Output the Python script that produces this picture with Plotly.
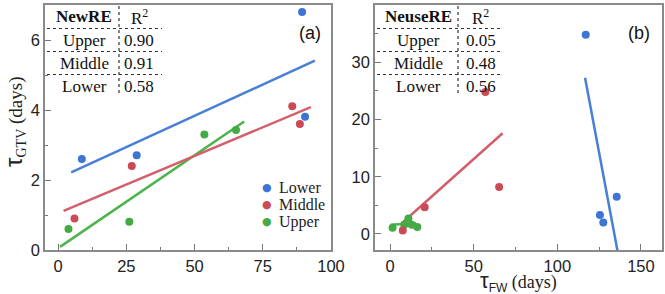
import plotly.graph_objects as go

W, H = 665, 294

# ---------------- data ----------------
groups = ["Lower", "Middle", "Upper"]
dot_colors = {"Lower": "#3d74d6", "Middle": "#cc4a58", "Upper": "#44ab44"}
line_colors = {"Lower": "#4a7fd6", "Middle": "#d2606c", "Upper": "#4db34d"}

# panel (a): NewRE
a_lower_x = [8.7, 28.8, 89.4, 90.5]
a_lower_y = [2.6, 2.71, 6.8, 3.81]
a_middle_x = [6.0, 27.0, 85.8, 88.6]
a_middle_y = [0.9, 2.4, 4.11, 3.6]
a_upper_x = [3.8, 26.1, 53.6, 65.2]
a_upper_y = [0.6, 0.81, 3.3, 3.43]

a_fit_lower_x = [4.8, 94.1]
a_fit_lower_y = [2.22, 5.41]
a_fit_middle_x = [2.0, 92.6]
a_fit_middle_y = [1.12, 4.08]
a_fit_upper_x = [0.7, 68.2]
a_fit_upper_y = [0.09, 3.67]

# panel (b): NeuseRE
b_lower_x = [117.0, 125.5, 127.5, 135.5]
b_lower_y = [34.8, 3.3, 2.0, 6.5]
b_middle_x = [7.6, 20.7, 57.0, 65.2]
b_middle_y = [0.6, 4.65, 24.8, 8.2]
b_upper_x = [1.5, 8.5, 11.0, 13.0, 16.3]
b_upper_y = [1.1, 1.6, 2.7, 1.6, 1.2]

b_fit_lower_x = [116.6, 136.3]
b_fit_lower_y = [27.3, -3.4]
b_fit_middle_x = [7.0, 67.3]
b_fit_middle_y = [1.87, 17.6]
b_fit_upper_x = [0.4, 15.5]
b_fit_upper_y = [1.6, 1.87]

# R^2 tables
table_rows = ["Upper", "Middle", "Lower"]
a_r2 = ["0.90", "0.91", "0.58"]
b_r2 = ["0.05", "0.48", "0.56"]

a_xticks = [0, 25, 50, 75, 100]
a_yticks = [0, 2, 4, 6]
b_xticks = [0, 50, 100, 150]
b_yticks = [0, 10, 20, 30]

legend_order = ["Lower", "Middle", "Upper"]

# ---------------- helpers ----------------
def px(x):
    return x / W

def py(y):
    return 1 - y / H

fig = go.Figure()

a_pts = {"Lower": (a_lower_x, a_lower_y), "Middle": (a_middle_x, a_middle_y), "Upper": (a_upper_x, a_upper_y)}
a_fit = {"Lower": (a_fit_lower_x, a_fit_lower_y), "Middle": (a_fit_middle_x, a_fit_middle_y), "Upper": (a_fit_upper_x, a_fit_upper_y)}
b_pts = {"Lower": (b_lower_x, b_lower_y), "Middle": (b_middle_x, b_middle_y), "Upper": (b_upper_x, b_upper_y)}
b_fit = {"Lower": (b_fit_lower_x, b_fit_lower_y), "Middle": (b_fit_middle_x, b_fit_middle_y), "Upper": (b_fit_upper_x, b_fit_upper_y)}

draw_order = ["Upper", "Middle", "Lower"]
for g in draw_order:
    fx, fy = a_fit[g]
    fig.add_trace(go.Scatter(x=fx, y=fy, mode="lines", line=dict(color=line_colors[g], width=2.5),
                             showlegend=False, xaxis="x", yaxis="y", hoverinfo="skip"))
    fx, fy = b_fit[g]
    fig.add_trace(go.Scatter(x=fx, y=fy, mode="lines", line=dict(color=line_colors[g], width=2.5),
                             showlegend=False, xaxis="x2", yaxis="y2", hoverinfo="skip"))
for g in draw_order:
    xs, ys = a_pts[g]
    fig.add_trace(go.Scatter(x=xs, y=ys, mode="markers", name=g,
                             marker=dict(color=dot_colors[g], size=8),
                             showlegend=False, xaxis="x", yaxis="y"))
    xs, ys = b_pts[g]
    fig.add_trace(go.Scatter(x=xs, y=ys, mode="markers", name=g,
                             marker=dict(color=dot_colors[g], size=8),
                             showlegend=False, xaxis="x2", yaxis="y2"))

tickfont = dict(family="Liberation Sans, Arial, sans-serif", size=16.5, color="#222")
frame = dict(showline=True, mirror=True, linecolor="#8a8a8a", linewidth=1.5,
             ticks="inside", ticklen=6, tickcolor="#777", tickwidth=1.2,
             showgrid=False, zeroline=False, tickfont=tickfont, automargin=False)

ydom = [py(250), py(5)]
fig.update_layout(
    width=W, height=H,
    margin=dict(l=0, r=0, t=0, b=0, autoexpand=False),
    paper_bgcolor="white", plot_bgcolor="white",
    xaxis=dict(domain=[px(45), px(331)], range=[-4.8, 100], tickvals=a_xticks,
               minor=dict(dtick=12.5, tick0=0, ticks="inside", ticklen=3, tickcolor="#777"),
               anchor="y", **frame),
    yaxis=dict(domain=ydom, range=[0, 7], tickvals=a_yticks,
               minor=dict(dtick=1, tick0=0, ticks="inside", ticklen=3, tickcolor="#777"),
               anchor="x", **frame),
    xaxis2=dict(domain=[px(375), px(662)], range=[-9, 162.6], tickvals=b_xticks,
                minor=dict(dtick=25, tick0=0, ticks="inside", ticklen=3, tickcolor="#777"),
                anchor="y2", **frame),
    yaxis2=dict(domain=ydom, range=[-2.8, 40], tickvals=b_yticks,
                minor=dict(dtick=5, tick0=0, ticks="inside", ticklen=3, tickcolor="#777"),
                anchor="x2", **frame),
    showlegend=False,
)

serif = "Liberation Serif, Times New Roman, serif"
sans = "Liberation Sans, Arial, sans-serif"
ann = []
shapes = []

def add_table(title, r2vals, x_left, x_right, x_div, c1, c2):
    for yy in [28.5, 51.5, 74.5]:
        shapes.append(dict(type="line", xref="paper", yref="paper",
                           x0=px(x_left), x1=px(x_right), y0=py(yy), y1=py(yy),
                           line=dict(color="#333", width=1.2, dash="dot")))
    shapes.append(dict(type="line", xref="paper", yref="paper",
                       x0=px(x_div), x1=px(x_div), y0=py(6), y1=py(94),
                       line=dict(color="#333", width=1.2, dash="dot")))
    rows_y = [17, 40, 63, 86]
    ann.append(dict(text="<b>%s</b>" % title, x=px(c1), y=py(rows_y[0]), xref="paper", yref="paper",
                    showarrow=False, font=dict(family=serif, size=17, color="#111"),
                    xanchor="center", yanchor="middle"))
    ann.append(dict(text="R<sup>2</sup>", x=px(c2), y=py(rows_y[0]), xref="paper", yref="paper",
                    showarrow=False, font=dict(family=serif, size=17, color="#111"),
                    xanchor="center", yanchor="middle"))
    for i, (r, v) in enumerate(zip(table_rows, r2vals)):
        ann.append(dict(text=r, x=px(c1), y=py(rows_y[i + 1]), xref="paper", yref="paper",
                        showarrow=False, font=dict(family=serif, size=17, color="#111"),
                        xanchor="center", yanchor="middle"))
        ann.append(dict(text=v, x=px(c2), y=py(rows_y[i + 1]), xref="paper", yref="paper",
                        showarrow=False, font=dict(family=serif, size=17, color="#111"),
                        xanchor="center", yanchor="middle"))

add_table("NewRE", a_r2, 47, 162, 119, 84, 139)
add_table("NeuseRE", b_r2, 377, 503, 458, 418, 481)

# legend (panel a)
for i, g in enumerate(legend_order):
    yy = 187 + i * 17.5
    ann.append(dict(text="●", x=px(267), y=py(yy), xref="paper", yref="paper", showarrow=False,
                    font=dict(family="DejaVu Sans", size=11, color=dot_colors[g]),
                    xanchor="center", yanchor="middle"))
    ann.append(dict(text=g, x=px(277), y=py(yy), xref="paper", yref="paper", showarrow=False,
                    font=dict(family=serif, size=16, color="#222"),
                    xanchor="left", yanchor="middle"))

ann.append(dict(text="(a)", x=px(310), y=py(33), xref="paper", yref="paper", showarrow=False,
                font=dict(family=sans, size=18, color="#111"), xanchor="center", yanchor="middle"))
ann.append(dict(text="(b)", x=px(639), y=py(33), xref="paper", yref="paper", showarrow=False,
                font=dict(family=sans, size=18, color="#111"), xanchor="center", yanchor="middle"))

ann.append(dict(
    text='<span style="font-family:Liberation Sans;font-size:24px">τ</span>'
         '<sub><span style="font-family:Liberation Serif;font-size:14px">GTV</span></sub>'
         '<span style="font-family:Liberation Serif;font-size:19px"> (days)</span>',
    x=px(14), y=py(122), xref="paper", yref="paper", showarrow=False, textangle=-90,
    font=dict(family=serif, size=19, color="#222"), xanchor="center", yanchor="middle"))
ann.append(dict(
    text='<span style="font-family:Liberation Sans;font-size:22px">τ</span>'
         '<sub><span style="font-family:Liberation Sans;font-size:12px">FW</span></sub>'
         '<span style="font-family:Liberation Serif;font-size:18px"> (days)</span>',
    x=px(518), y=py(281.5), xref="paper", yref="paper", showarrow=False,
    font=dict(family=serif, size=18, color="#222"), xanchor="center", yanchor="middle"))

fig.update_layout(annotations=ann, shapes=shapes)
fig.write_html("out.html")
